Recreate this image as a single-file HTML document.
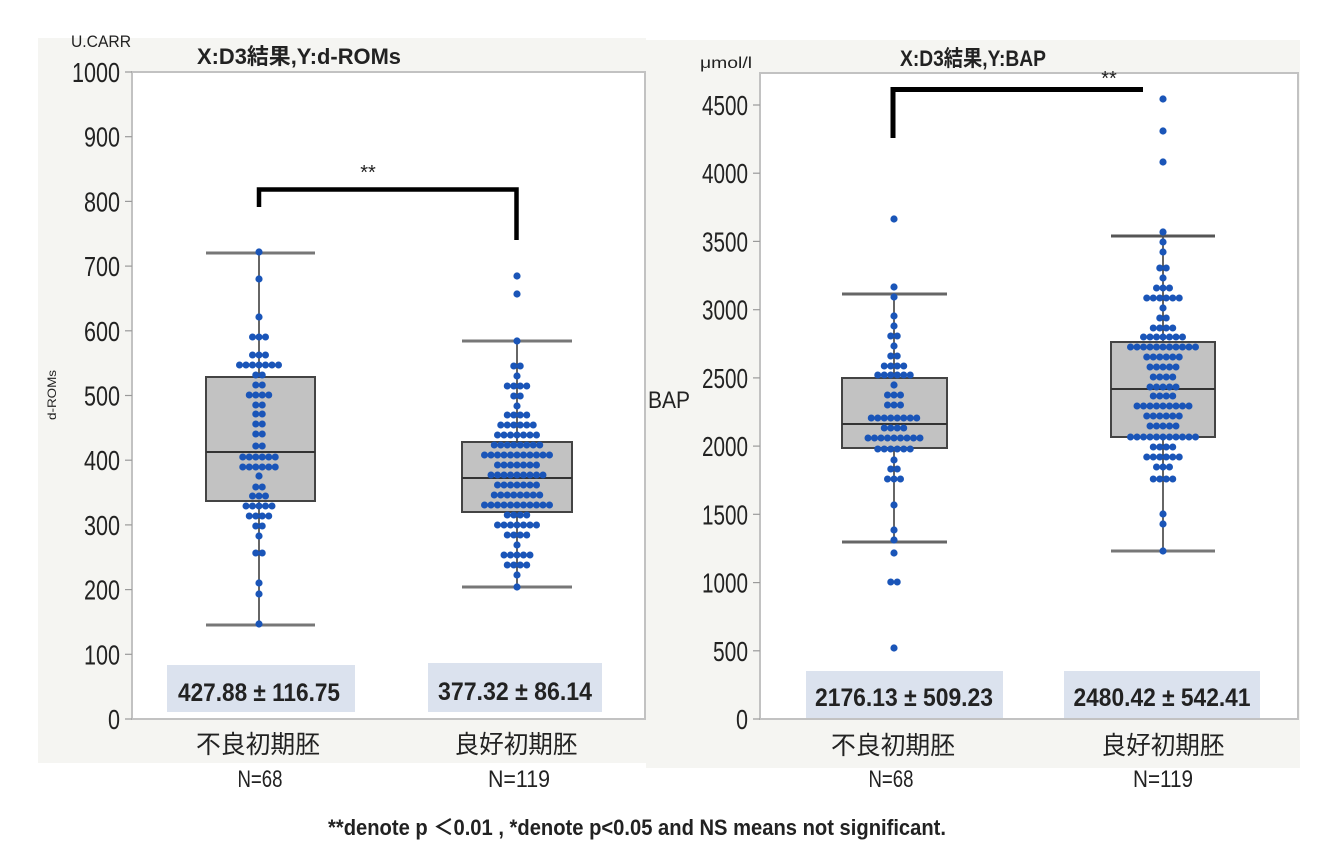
<!DOCTYPE html>
<html>
<head>
<meta charset="utf-8">
<style>
html,body{margin:0;padding:0;background:#fff;}
svg{display:block;}
.t{font-family:"Liberation Sans","Noto Sans CJK JP",sans-serif;fill:#222;}
.d{stroke:#1a55b8;stroke-width:7;stroke-linecap:round;stroke-dasharray:0 6.5;fill:none;}
.c{fill:#1a55b8;}
.tk{stroke:#9a9a9a;stroke-width:1.2;}
.cap{stroke:#777;stroke-width:3;}
.stem{stroke:#333;stroke-width:1.5;}
.box{fill:#c2c2c2;stroke:#444;stroke-width:2;}
.med{stroke:#333;stroke-width:2;}
</style>
</head>
<body>
<svg width="1336" height="852" viewBox="0 0 1336 852" xmlns="http://www.w3.org/2000/svg">
<!-- panel backgrounds -->
<rect x="38" y="38" width="608" height="725" fill="#f5f5f2"/>
<rect x="646" y="40" width="654" height="728" fill="#f5f5f2"/>

<!-- ================= LEFT CHART ================= -->
<rect x="132" y="72" width="513" height="647" fill="#fff" stroke="#c2c2c2" stroke-width="2"/>
<text class="t" x="71" y="47" font-size="17" textLength="60" lengthAdjust="spacingAndGlyphs">U.CARR</text>
<text class="t" x="197" y="64" font-size="22" font-weight="bold" fill="#111" textLength="204" lengthAdjust="spacingAndGlyphs">X:D3結果,Y:d-ROMs</text>

<!-- y ticks -->
<g class="tk">
<line x1="125" y1="72" x2="132" y2="72"/><line x1="125" y1="136.7" x2="132" y2="136.7"/>
<line x1="125" y1="201.4" x2="132" y2="201.4"/><line x1="125" y1="266.1" x2="132" y2="266.1"/>
<line x1="125" y1="330.8" x2="132" y2="330.8"/><line x1="125" y1="395.5" x2="132" y2="395.5"/>
<line x1="125" y1="460.2" x2="132" y2="460.2"/><line x1="125" y1="524.9" x2="132" y2="524.9"/>
<line x1="125" y1="589.6" x2="132" y2="589.6"/><line x1="125" y1="654.3" x2="132" y2="654.3"/>
<line x1="125" y1="719" x2="132" y2="719"/>
</g>
<g class="t" font-size="28" text-anchor="end">
<text x="120" y="82" textLength="48" lengthAdjust="spacingAndGlyphs">1000</text>
<text x="120" y="146.7" textLength="36" lengthAdjust="spacingAndGlyphs">900</text>
<text x="120" y="211.4" textLength="36" lengthAdjust="spacingAndGlyphs">800</text>
<text x="120" y="276.1" textLength="36" lengthAdjust="spacingAndGlyphs">700</text>
<text x="120" y="340.8" textLength="36" lengthAdjust="spacingAndGlyphs">600</text>
<text x="120" y="405.5" textLength="36" lengthAdjust="spacingAndGlyphs">500</text>
<text x="120" y="470.2" textLength="36" lengthAdjust="spacingAndGlyphs">400</text>
<text x="120" y="534.9" textLength="36" lengthAdjust="spacingAndGlyphs">300</text>
<text x="120" y="599.6" textLength="36" lengthAdjust="spacingAndGlyphs">200</text>
<text x="120" y="664.3" textLength="36" lengthAdjust="spacingAndGlyphs">100</text>
<text x="120" y="729" textLength="12" lengthAdjust="spacingAndGlyphs">0</text>
</g>
<text class="t" font-size="12" text-anchor="middle" transform="translate(56,395) rotate(-90)" textLength="50" lengthAdjust="spacingAndGlyphs">d-ROMs</text>

<!-- group 1 box -->
<line class="stem" x1="259" y1="253" x2="259" y2="625"/>
<line class="cap" x1="206" y1="253" x2="315" y2="253"/>
<line class="cap" x1="206" y1="625" x2="315" y2="625"/>
<rect class="box" x="206" y="377" width="109" height="124"/>
<line class="med" x1="206" y1="452" x2="315" y2="452"/>
<!-- group 2 box -->
<line class="stem" x1="517" y1="341" x2="517" y2="587"/>
<line class="cap" x1="462" y1="341" x2="572" y2="341"/>
<line class="cap" x1="462" y1="587" x2="572" y2="587"/>
<rect class="box" x="462" y="442" width="110" height="70"/>
<line class="med" x1="462" y1="478" x2="572" y2="478"/>

<!-- dots left g1 -->
<g>
<circle class="c" cx="259" cy="252" r="3.6"/><circle class="c" cx="259" cy="279" r="3.6"/>
<circle class="c" cx="259" cy="317" r="3.6"/><circle class="c" cx="259" cy="476" r="3.6"/>
<circle class="c" cx="259" cy="536" r="3.6"/><circle class="c" cx="259" cy="583" r="3.6"/>
<circle class="c" cx="259" cy="594" r="3.6"/><circle class="c" cx="259" cy="624" r="3.6"/>
<line class="d" x1="252.5" y1="337" x2="265.51" y2="337"/>
<line class="d" x1="252.5" y1="355" x2="265.51" y2="355"/>
<line class="d" x1="239.5" y1="365" x2="278.51" y2="365"/>
<line class="d" x1="255.75" y1="375" x2="262.26" y2="375"/>
<line class="d" x1="255.75" y1="385" x2="262.26" y2="385"/>
<line class="d" x1="249.25" y1="395" x2="268.76" y2="395"/>
<line class="d" x1="255.75" y1="405" x2="262.26" y2="405"/>
<line class="d" x1="255.75" y1="414" x2="262.26" y2="414"/>
<line class="d" x1="255.75" y1="424" x2="262.26" y2="424"/>
<line class="d" x1="255.75" y1="434" x2="262.26" y2="434"/>
<line class="d" x1="255.75" y1="446" x2="262.26" y2="446"/>
<line class="d" x1="242.75" y1="457" x2="275.26" y2="457"/>
<line class="d" x1="242.75" y1="467" x2="275.26" y2="467"/>
<line class="d" x1="255.75" y1="487" x2="262.26" y2="487"/>
<line class="d" x1="252.5" y1="496" x2="265.51" y2="496"/>
<line class="d" x1="246" y1="506" x2="272.01" y2="506"/>
<line class="d" x1="249.25" y1="516" x2="268.76" y2="516"/>
<line class="d" x1="255.75" y1="526" x2="262.26" y2="526"/>
<line class="d" x1="255.75" y1="553" x2="262.26" y2="553"/>
</g>
<!-- dots left g2 -->
<g>
<circle class="c" cx="517" cy="276" r="3.6"/><circle class="c" cx="517" cy="294" r="3.6"/>
<circle class="c" cx="517" cy="341" r="3.6"/><circle class="c" cx="517" cy="376" r="3.6"/>
<circle class="c" cx="517" cy="406" r="3.6"/><circle class="c" cx="517" cy="545" r="3.6"/>
<circle class="c" cx="517" cy="575" r="3.6"/><circle class="c" cx="517" cy="587" r="3.6"/>
<line class="d" x1="513.75" y1="366" x2="520.26" y2="366"/>
<line class="d" x1="507.25" y1="386" x2="526.76" y2="386"/>
<line class="d" x1="513.75" y1="396" x2="520.26" y2="396"/>
<line class="d" x1="507.25" y1="415" x2="526.76" y2="415"/>
<line class="d" x1="500.75" y1="425" x2="533.26" y2="425"/>
<line class="d" x1="497.5" y1="435" x2="536.51" y2="435"/>
<line class="d" x1="494.25" y1="445" x2="539.76" y2="445"/>
<line class="d" x1="484.5" y1="455" x2="549.51" y2="455"/>
<line class="d" x1="497.5" y1="465" x2="536.51" y2="465"/>
<line class="d" x1="491" y1="475" x2="543.01" y2="475"/>
<line class="d" x1="497.5" y1="485" x2="536.51" y2="485"/>
<line class="d" x1="494.25" y1="495" x2="539.76" y2="495"/>
<line class="d" x1="484.5" y1="505" x2="549.51" y2="505"/>
<line class="d" x1="507.25" y1="515" x2="526.76" y2="515"/>
<line class="d" x1="497.5" y1="525" x2="536.51" y2="525"/>
<line class="d" x1="507.25" y1="535" x2="526.76" y2="535"/>
<line class="d" x1="504" y1="555" x2="530.01" y2="555"/>
<line class="d" x1="507.25" y1="565" x2="526.76" y2="565"/>
</g>

<!-- bracket left -->
<path d="M259 207 V189.5 H516.5 V240" fill="none" stroke="#000" stroke-width="4.5"/>
<text class="t" x="368" y="179" font-size="20" text-anchor="middle" fill="#222">**</text>

<!-- stat boxes left -->
<rect x="167" y="665" width="188" height="47" fill="#dbe2ee"/>
<rect x="428" y="663" width="174" height="49" fill="#dbe2ee"/>
<text class="t" x="259" y="701" font-size="25" font-weight="bold" text-anchor="middle" fill="#1c1c28" textLength="162" lengthAdjust="spacingAndGlyphs">427.88 ± 116.75</text>
<text class="t" x="515" y="700" font-size="25" font-weight="bold" text-anchor="middle" fill="#1c1c28" textLength="154" lengthAdjust="spacingAndGlyphs">377.32 ± 86.14</text>

<!-- x labels left -->
<text class="t" x="258" y="753" font-size="25" text-anchor="middle" fill="#333" textLength="124" lengthAdjust="spacingAndGlyphs">不良初期胚</text>
<text class="t" x="516" y="753" font-size="25" text-anchor="middle" fill="#333" textLength="123" lengthAdjust="spacingAndGlyphs">良好初期胚</text>
<text class="t" x="260" y="787" font-size="24" text-anchor="middle" fill="#333" textLength="45" lengthAdjust="spacingAndGlyphs">N=68</text>
<text class="t" x="519" y="787" font-size="24" text-anchor="middle" fill="#333" textLength="62" lengthAdjust="spacingAndGlyphs">N=119</text>

<!-- ================= RIGHT CHART ================= -->
<rect x="760" y="73" width="538" height="646" fill="#fff" stroke="#c2c2c2" stroke-width="2"/>
<text class="t" x="700" y="68" font-size="16" textLength="52" lengthAdjust="spacingAndGlyphs">μmol/l</text>
<text class="t" x="900" y="66" font-size="22" font-weight="bold" fill="#111" textLength="146" lengthAdjust="spacingAndGlyphs">X:D3結果,Y:BAP</text>

<g class="tk">
<line x1="753" y1="105" x2="760" y2="105"/><line x1="753" y1="173.2" x2="760" y2="173.2"/>
<line x1="753" y1="241.4" x2="760" y2="241.4"/><line x1="753" y1="309.7" x2="760" y2="309.7"/>
<line x1="753" y1="377.9" x2="760" y2="377.9"/><line x1="753" y1="446.1" x2="760" y2="446.1"/>
<line x1="753" y1="514.3" x2="760" y2="514.3"/><line x1="753" y1="582.6" x2="760" y2="582.6"/>
<line x1="753" y1="650.8" x2="760" y2="650.8"/><line x1="753" y1="719" x2="760" y2="719"/>
</g>
<g class="t" font-size="28" text-anchor="end">
<text x="748" y="115" textLength="46" lengthAdjust="spacingAndGlyphs">4500</text>
<text x="748" y="183.2" textLength="46" lengthAdjust="spacingAndGlyphs">4000</text>
<text x="748" y="251.4" textLength="46" lengthAdjust="spacingAndGlyphs">3500</text>
<text x="748" y="319.7" textLength="46" lengthAdjust="spacingAndGlyphs">3000</text>
<text x="748" y="387.9" textLength="46" lengthAdjust="spacingAndGlyphs">2500</text>
<text x="748" y="456.1" textLength="46" lengthAdjust="spacingAndGlyphs">2000</text>
<text x="748" y="524.3" textLength="46" lengthAdjust="spacingAndGlyphs">1500</text>
<text x="748" y="592.6" textLength="46" lengthAdjust="spacingAndGlyphs">1000</text>
<text x="748" y="660.8" textLength="35" lengthAdjust="spacingAndGlyphs">500</text>
<text x="748" y="729" textLength="12" lengthAdjust="spacingAndGlyphs">0</text>
</g>
<text class="t" x="648" y="408" font-size="24" textLength="42" lengthAdjust="spacingAndGlyphs">BAP</text>

<!-- group 1 box -->
<line class="stem" x1="894" y1="294" x2="894" y2="542"/>
<line class="cap" x1="842" y1="294" x2="947" y2="294" style="stroke:#666"/>
<line class="cap" x1="842" y1="542" x2="947" y2="542" style="stroke:#666"/>
<rect class="box" x="842" y="378" width="105" height="70"/>
<line class="med" x1="842" y1="424" x2="947" y2="424"/>
<!-- group 2 box -->
<line class="stem" x1="1163" y1="236" x2="1163" y2="551"/>
<line class="cap" x1="1111" y1="236" x2="1215" y2="236" style="stroke:#555"/>
<line class="cap" x1="1111" y1="551" x2="1215" y2="551" style="stroke:#777"/>
<rect class="box" x="1111" y="342" width="104" height="95"/>
<line class="med" x1="1111" y1="389" x2="1215" y2="389"/>

<!-- dots right g1 -->
<g>
<circle class="c" cx="894" cy="219" r="3.6"/><circle class="c" cx="894" cy="287" r="3.6"/>
<circle class="c" cx="894" cy="297" r="3.6"/><circle class="c" cx="894" cy="316" r="3.6"/>
<circle class="c" cx="894" cy="326" r="3.6"/><circle class="c" cx="894" cy="346" r="3.6"/>
<circle class="c" cx="894" cy="385" r="3.6"/><circle class="c" cx="894" cy="460" r="3.6"/>
<circle class="c" cx="894" cy="505" r="3.6"/><circle class="c" cx="894" cy="530" r="3.6"/>
<circle class="c" cx="894" cy="540" r="3.6"/><circle class="c" cx="894" cy="553" r="3.6"/>
<circle class="c" cx="894" cy="648" r="3.6"/>
<line class="d" x1="890.75" y1="336" x2="897.26" y2="336"/>
<line class="d" x1="890.75" y1="356" x2="897.26" y2="356"/>
<line class="d" x1="884.25" y1="366" x2="903.76" y2="366"/>
<line class="d" x1="877.75" y1="375" x2="910.26" y2="375"/>
<line class="d" x1="887.5" y1="395" x2="900.51" y2="395"/>
<line class="d" x1="887.5" y1="405" x2="900.51" y2="405"/>
<line class="d" x1="871.25" y1="418" x2="916.76" y2="418"/>
<line class="d" x1="884.25" y1="428" x2="903.76" y2="428"/>
<line class="d" x1="868" y1="438" x2="920.01" y2="438"/>
<line class="d" x1="877.75" y1="449" x2="910.26" y2="449"/>
<line class="d" x1="890.75" y1="469" x2="897.26" y2="469"/>
<line class="d" x1="887.5" y1="479" x2="900.51" y2="479"/>
<line class="d" x1="890.75" y1="582" x2="897.26" y2="582"/>
</g>
<!-- dots right g2 -->
<g>
<circle class="c" cx="1163" cy="99" r="3.6"/><circle class="c" cx="1163" cy="131" r="3.6"/>
<circle class="c" cx="1163" cy="162" r="3.6"/><circle class="c" cx="1163" cy="232" r="3.6"/>
<circle class="c" cx="1163" cy="242" r="3.6"/><circle class="c" cx="1163" cy="252" r="3.6"/>
<circle class="c" cx="1163" cy="278" r="3.6"/><circle class="c" cx="1163" cy="308" r="3.6"/>
<circle class="c" cx="1163" cy="514" r="3.6"/><circle class="c" cx="1163" cy="524" r="3.6"/>
<circle class="c" cx="1163" cy="551" r="3.6"/>
<line class="d" x1="1159.75" y1="268" x2="1166.26" y2="268"/>
<line class="d" x1="1156.5" y1="288" x2="1169.51" y2="288"/>
<line class="d" x1="1146.75" y1="298" x2="1179.26" y2="298"/>
<line class="d" x1="1159.75" y1="318" x2="1166.26" y2="318"/>
<line class="d" x1="1153.25" y1="328" x2="1172.76" y2="328"/>
<line class="d" x1="1143.5" y1="337" x2="1182.51" y2="337"/>
<line class="d" x1="1130.5" y1="347" x2="1195.51" y2="347"/>
<line class="d" x1="1146.75" y1="357" x2="1179.26" y2="357"/>
<line class="d" x1="1150" y1="367" x2="1176.01" y2="367"/>
<line class="d" x1="1153.25" y1="377" x2="1172.76" y2="377"/>
<line class="d" x1="1150" y1="387" x2="1176.01" y2="387"/>
<line class="d" x1="1153.25" y1="396" x2="1172.76" y2="396"/>
<line class="d" x1="1137" y1="406" x2="1189.01" y2="406"/>
<line class="d" x1="1146.75" y1="416" x2="1179.26" y2="416"/>
<line class="d" x1="1150" y1="426" x2="1176.01" y2="426"/>
<line class="d" x1="1130.5" y1="437" x2="1195.51" y2="437"/>
<line class="d" x1="1153.25" y1="447" x2="1172.76" y2="447"/>
<line class="d" x1="1146.75" y1="457" x2="1179.26" y2="457"/>
<line class="d" x1="1156.5" y1="467" x2="1169.51" y2="467"/>
<line class="d" x1="1153.25" y1="479" x2="1172.76" y2="479"/>
</g>

<!-- bracket right -->
<path d="M893 138 V89.5 H1143" fill="none" stroke="#000" stroke-width="5"/>
<text class="t" x="1109" y="85" font-size="20" text-anchor="middle" fill="#222">**</text>

<!-- stat boxes right -->
<rect x="806" y="671" width="197" height="47" fill="#dbe2ee"/>
<rect x="1064" y="671" width="196" height="47" fill="#dbe2ee"/>
<text class="t" x="904" y="706" font-size="25" font-weight="bold" text-anchor="middle" fill="#1c1c28" textLength="178" lengthAdjust="spacingAndGlyphs">2176.13 ± 509.23</text>
<text class="t" x="1162" y="706" font-size="25" font-weight="bold" text-anchor="middle" fill="#1c1c28" textLength="177" lengthAdjust="spacingAndGlyphs">2480.42 ± 542.41</text>

<!-- x labels right -->
<text class="t" x="893" y="754" font-size="25" text-anchor="middle" fill="#333" textLength="124" lengthAdjust="spacingAndGlyphs">不良初期胚</text>
<text class="t" x="1163" y="754" font-size="25" text-anchor="middle" fill="#333" textLength="123" lengthAdjust="spacingAndGlyphs">良好初期胚</text>
<text class="t" x="891" y="787" font-size="24" text-anchor="middle" fill="#333" textLength="45" lengthAdjust="spacingAndGlyphs">N=68</text>
<text class="t" x="1163" y="787" font-size="24" text-anchor="middle" fill="#333" textLength="60" lengthAdjust="spacingAndGlyphs">N=119</text>

<!-- footnote -->
<text class="t" x="328" y="835" font-size="22" font-weight="bold" fill="#1a1a1a" textLength="618" lengthAdjust="spacingAndGlyphs">**denote p ＜0.01 , *denote p&lt;0.05 and NS means not significant.</text>
</svg>
</body>
</html>
